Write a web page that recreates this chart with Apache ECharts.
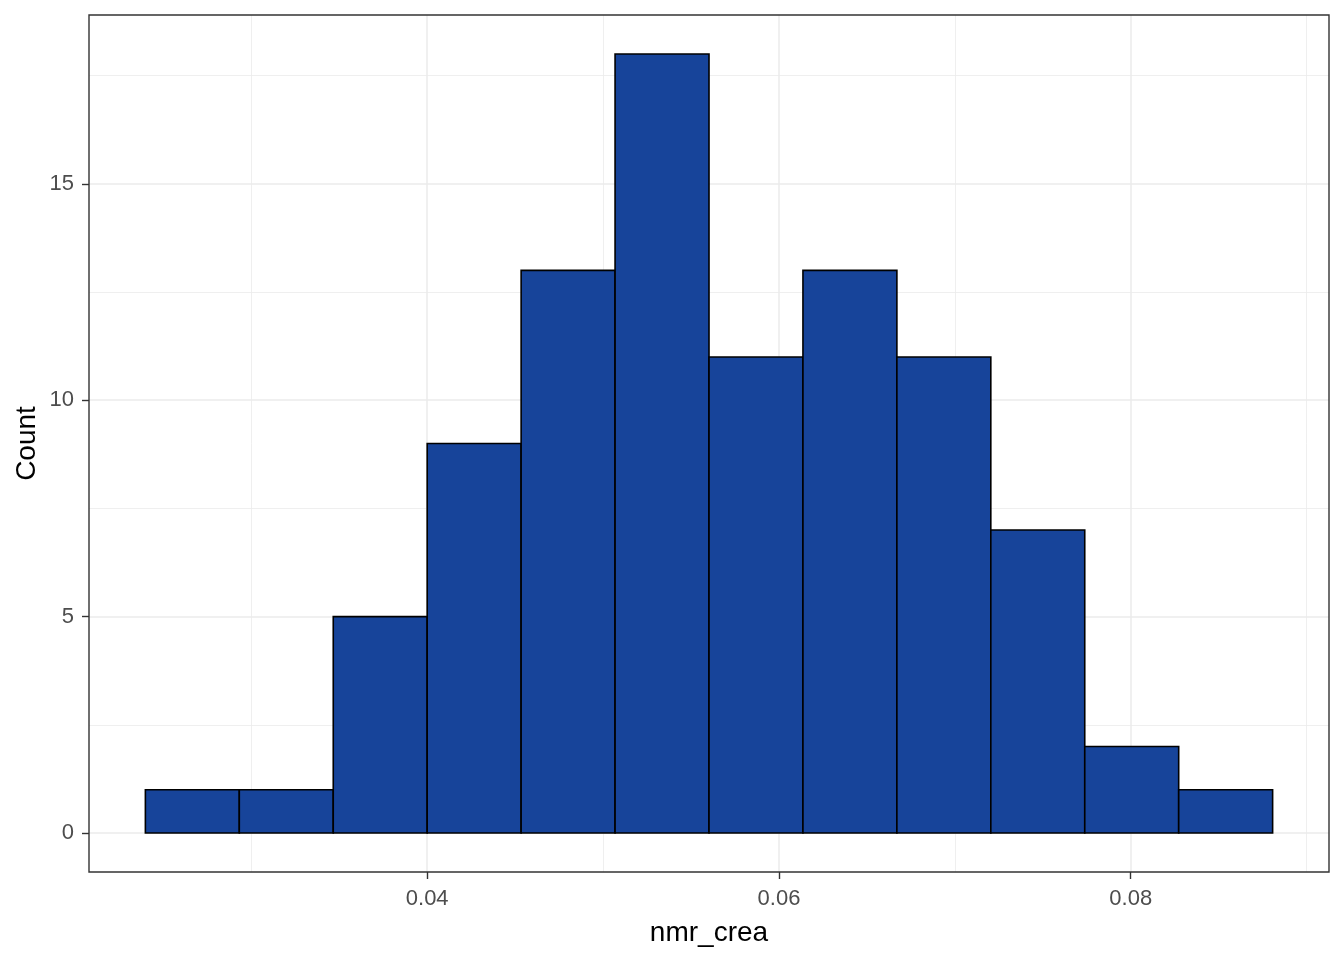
<!DOCTYPE html>
<html>
<head>
<meta charset="utf-8">
<script src="https://cdn.jsdelivr.net/npm/echarts@6/dist/echarts.min.js"></script>
<style>
html,body{margin:0;padding:0;background:#fff;}
#chart{width:1344px;height:960px;}
</style>
</head>
<body>
<div id="chart"></div>
<script>
// Histogram bin edges (nmr_crea) and counts
var binEdges = [0.023977, 0.029318, 0.034659, 0.040000, 0.045341, 0.050682, 0.056023,
                0.061364, 0.066705, 0.072045, 0.077386, 0.082727, 0.088068];
var counts = [1, 1, 5, 9, 13, 18, 11, 13, 11, 7, 2, 1];

var xTicks = [0.04, 0.06, 0.08];
var xMinor = [0.03, 0.05, 0.07, 0.09];
var yTicks = [0, 5, 10, 15];
var yMinor = [2.5, 7.5, 12.5, 17.5];

var xTitle = 'nmr_crea';
var yTitle = 'Count';

var bars = counts.map(function (c, i) { return [binEdges[i], binEdges[i + 1], c]; });

var xMin = 0.020772, xMax = 0.091273;
var yMin = -0.9, yMax = 18.9;

function gridLines(axisKey, vals, width) {
  return vals.map(function (v) {
    var o = { lineStyle: { width: width } };
    o[axisKey] = v;
    return o;
  });
}

var chart = echarts.init(document.getElementById('chart'), null, { renderer: 'canvas' });
chart.setOption({
  animation: false,
  backgroundColor: '#ffffff',
  grid: {
    left: 89, right: 15, top: 15, bottom: 88,
    containLabel: false, outerBoundsMode: 'none',
    show: true, borderColor: '#333333', borderWidth: 1.4, backgroundColor: 'transparent', z: 10
  },
  xAxis: {
    type: 'value', min: xMin, max: xMax,
    name: xTitle, nameLocation: 'middle', nameGap: 47, nameMoveOverlap: false,
    nameTextStyle: { color: '#000', fontSize: 28, fontFamily: 'Liberation Sans, Arial, sans-serif' },
    axisLine: { show: false, onZero: false },
    axisTick: { show: true, inside: false, customValues: xTicks, length: 7, lineStyle: { color: '#333333', width: 1.4 } },
    axisLabel: { customValues: xTicks, margin: 16, color: '#4D4D4D', fontSize: 22,
                 fontFamily: 'Liberation Sans, Arial, sans-serif',
                 formatter: function (v) { return v.toFixed(2); } },
    splitLine: { show: false }
  },
  yAxis: {
    type: 'value', min: yMin, max: yMax,
    name: yTitle, nameLocation: 'middle', nameGap: 48, nameRotate: 90, nameMoveOverlap: false,
    nameTextStyle: { color: '#000', fontSize: 28, fontFamily: 'Liberation Sans, Arial, sans-serif' },
    axisLine: { show: false, onZero: false },
    axisTick: { show: true, inside: false, customValues: yTicks, length: 7, lineStyle: { color: '#333333', width: 1.4 } },
    axisLabel: { customValues: yTicks, margin: 15, color: '#4D4D4D', fontSize: 22,
                 fontFamily: 'Liberation Sans, Arial, sans-serif' },
    splitLine: { show: false }
  },
  series: [
    {
      type: 'line', data: [], z: 1, silent: true,
      markLine: {
        silent: true, symbol: ['none', 'none'], label: { show: false },
        lineStyle: { color: '#EBEBEB', type: 'solid' },
        animation: false,
        data: [].concat(
          gridLines('xAxis', xMinor, 0.8),
          gridLines('yAxis', yMinor, 0.8),
          gridLines('xAxis', xTicks, 1.5),
          gridLines('yAxis', yTicks, 1.5)
        )
      }
    },
    {
      type: 'custom', z: 5,
      data: bars,
      encode: { x: [0, 1], y: 2 },
      renderItem: function (params, api) {
        var p0 = api.coord([api.value(0), api.value(2)]);
        var p1 = api.coord([api.value(1), 0]);
        return {
          type: 'rect',
          shape: { x: p0[0], y: p0[1], width: p1[0] - p0[0], height: p1[1] - p0[1] },
          style: { fill: '#17449A', stroke: '#000000', lineWidth: 1.6 }
        };
      }
    }
  ]
});
</script>
</body>
</html>
